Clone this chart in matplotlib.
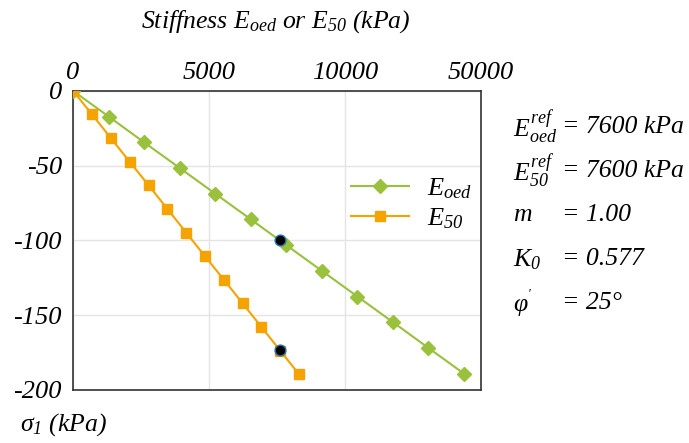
import matplotlib.pyplot as plt

plt.rcParams["font.family"] = ["Liberation Serif", "DejaVu Serif"]
plt.rcParams["font.style"] = "italic"
plt.rcParams["mathtext.fontset"] = "custom"
plt.rcParams["mathtext.rm"] = "Liberation Serif:italic"
plt.rcParams["mathtext.it"] = "Liberation Serif:italic"
plt.rcParams["axes.unicode_minus"] = False

# values
sigma_oed = [0, -17.2, -34.4, -51.6, -68.8, -86.0, -103.2, -120.4, -137.6, -154.8, -172.0, -189.2]
e_oed = [0, 1310, 2610, 3920, 5230, 6540, 7840, 9150, 10460, 11770, 13070, 14380]
sigma_50 = [0, -15.8, -31.6, -47.4, -63.2, -79.0, -94.8, -110.6, -126.4, -142.2, -158.0, -173.8, -189.6]
e_50 = [0, 700, 1390, 2080, 2780, 3470, 4160, 4850, 5550, 6240, 6930, 7620, 8310]
ref_e = [7600, 7600]
ref_sigma = [-100, -173.3]

x_ticks = [0, 5000, 10000, 15000]
x_ticklabels = ["0", "5000", "10000", "50000"]
y_ticks = [0, -50, -100, -150, -200]

params = [
    ("$E_{oed}^{ref}$", "= 7600 kPa"),
    ("$E_{50}^{ref}$", "= 7600 kPa"),
    ("m", "= 1.00"),
    ("$K_{0}$", "= 0.577"),
    ("φ$^{'}$", "= 25°"),
]

green = "#99c13c"
orange = "#f5a300"

fig = plt.figure(figsize=(6.89, 4.43), dpi=100)
ax = fig.add_axes([0.106, 0.12, 0.592, 0.675])

ax.plot(e_oed, sigma_oed, color=green, lw=1.5, marker="D", ms=7.5,
        label="$E_{oed}$", zorder=3)
ax.plot(e_50, sigma_50, color=orange, lw=1.5, marker="s", ms=7,
        label="$E_{50}$", zorder=3)
ax.scatter(ref_e, ref_sigma, s=60, color="black", edgecolor="#1f77b4",
           linewidth=1, zorder=5)

ax.set_xlim(0, 15000)
ax.set_ylim(-200, 0)
ax.xaxis.tick_top()
ax.set_xticks(x_ticks)
ax.set_xticklabels(x_ticklabels)
ax.set_yticks(y_ticks)
ax.tick_params(length=0, labelsize=19)
ax.tick_params(axis="x", pad=5)
ax.tick_params(axis="y", pad=8)
ax.grid(color="#e4e4e4", lw=1)
ax.set_axisbelow(True)
for s in ax.spines.values():
    s.set_color("#333333")
    s.set_linewidth(1.2)

ax.legend(loc="upper left", bbox_to_anchor=(0.681, 0.715), frameon=False,
          fontsize=19, handlelength=2.2, labelspacing=0.2, handletextpad=0.7,
          borderpad=0, borderaxespad=0)

fig.text(0.401, 0.937, "Stiffness $E_{oed}$ or $E_{50}$ (kPa)",
         ha="center", va="baseline", fontsize=18.5)
fig.text(0.029, 0.027, "$σ_{1}$ (kPa)", ha="left", va="baseline", fontsize=18.5)

y0 = 0.713
for i, (name, val) in enumerate(params):
    y = y0 - i * 0.0995
    fig.text(0.745, y, name, ha="left", va="center", fontsize=18.5)
    fig.text(0.816, y, val, ha="left", va="center", fontsize=18.5)

fig.savefig("out.png", dpi=100)
